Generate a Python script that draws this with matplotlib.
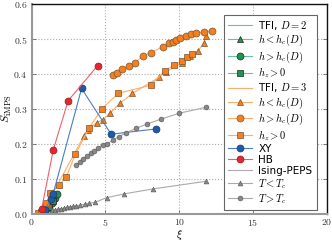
import matplotlib
matplotlib.use("Agg")
import matplotlib.pyplot as plt

plt.rcParams['mathtext.fontset'] = 'cm'
plt.rcParams['font.family'] = ['DejaVu Serif']

# ---------------- data ----------------
# TFI, D=2
d2_tri_x = [0.9, 1.1, 1.3, 1.5]
d2_tri_y = [0.010, 0.022, 0.034, 0.046]
d2_circ_x = [1.15, 1.35, 1.55, 1.72]
d2_circ_y = [0.016, 0.030, 0.045, 0.058]
d2_sq_x = [0.6, 0.9, 1.2, 1.45]
d2_sq_y = [0.003, 0.009, 0.020, 0.036]

# TFI, D=3
d3_tri_x = [0.9, 1.1, 1.3, 3.54, 3.83, 4.4, 4.85, 5.3, 5.97, 6.83, 8.63, 9.13,
            10.2, 10.71, 11.27, 11.66, 11.84]
d3_tri_y = [0.010, 0.028, 0.048, 0.223, 0.240, 0.261, 0.270, 0.288, 0.316,
            0.345, 0.391, 0.407, 0.433, 0.452, 0.467, 0.488, 0.509]
d3_circ_x = [5.5, 5.8, 6.15, 6.6, 7.0, 7.55, 8.1, 8.9, 9.3, 9.55, 9.8, 10.05,
             10.45, 10.8, 11.15, 11.7, 12.25]
d3_circ_y = [0.397, 0.404, 0.414, 0.423, 0.433, 0.452, 0.462, 0.479, 0.488,
             0.493, 0.498, 0.503, 0.510, 0.514, 0.517, 0.521, 0.524]
d3_sq_x = [0.4, 0.6, 0.8, 1.0, 1.24, 1.87, 2.35, 2.95, 3.9, 4.74, 5.86, 8.05,
           9.02, 9.63, 10.2, 10.53, 10.83]
d3_sq_y = [0.002, 0.006, 0.015, 0.030, 0.060, 0.082, 0.106, 0.170, 0.246,
           0.300, 0.345, 0.368, 0.410, 0.426, 0.438, 0.448, 0.458]

# XY
xy_x = [0.9, 1.28, 1.46, 3.38, 5.38, 8.41]
xy_y = [0.012, 0.041, 0.058, 0.359, 0.228, 0.243]

# HB
hb_x = [0.67, 1.46, 2.47, 4.46]
hb_y = [0.013, 0.183, 0.324, 0.424]

# Ising-PEPS
is_lo_x = [1.4, 1.6, 1.8, 2.0, 2.2, 2.4, 2.6, 2.8, 3.0, 3.3, 3.6, 3.9, 4.3,
           5.07, 6.27, 8.19, 11.8]
is_lo_y = [0.010, 0.012, 0.013, 0.015, 0.016, 0.018, 0.019, 0.021, 0.022,
           0.025, 0.027, 0.030, 0.033, 0.046, 0.057, 0.071, 0.093]
is_hi_x = [3.0, 3.25, 3.5, 3.75, 4.0, 4.25, 4.5, 4.8, 5.1, 5.5, 5.9, 6.4, 7.1,
           7.8, 8.75, 10.0, 11.8]
is_hi_y = [0.140, 0.148, 0.157, 0.165, 0.173, 0.181, 0.189, 0.197, 0.200,
           0.211, 0.221, 0.232, 0.245, 0.257, 0.271, 0.288, 0.305]

xticks = [0, 5, 10, 15, 20]
yticks = [0.0, 0.1, 0.2, 0.3, 0.4, 0.5, 0.6]

# ---------------- styles ----------------
g_line = '#66c2a5'
g_mark = '#1a9850'
o_line = '#fdae6b'
o_mark = '#f47f20'
b_line = '#4a7fc4'
b_mark = '#1f5aa6'
r_line = '#f0606a'
r_mark = '#e3262f'
k_line = '#aaaaaa'
k_mark = '#888888'

fig = plt.figure(figsize=(3.32, 2.41), dpi=100)
ax = fig.add_axes([0.0955, 0.113, 0.889, 0.869])

lw = 0.8
ax.plot([], [], color=g_line, lw=lw, label='TFI, $D=2$')
ax.plot(d2_tri_x, d2_tri_y, '-^', color=g_line, mfc=g_mark, mec='#222222', ms=5, mew=0.5, lw=lw, label='$h<h_c(D)$')
ax.plot(d2_circ_x, d2_circ_y, '-o', color=g_line, mfc=g_mark, mec='#222222', ms=5, mew=0.5, lw=lw, label='$h>h_c(D)$')
ax.plot(d2_sq_x, d2_sq_y, '-s', color=g_line, mfc=g_mark, mec='#222222', ms=5, mew=0.5, lw=lw, label='$h_z>0$')
ax.plot([], [], color=o_line, lw=lw, label='TFI, $D=3$')
ax.plot(d3_tri_x, d3_tri_y, '-^', color=o_line, mfc=o_mark, mec='#7a5530', ms=5, mew=0.5, lw=lw, label='$h<h_c(D)$')
ax.plot(d3_circ_x, d3_circ_y, '-o', color=o_line, mfc=o_mark, mec='#7a5530', ms=5, mew=0.5, lw=lw, label='$h>h_c(D)$')
ax.plot(d3_sq_x, d3_sq_y, '-s', color=o_line, mfc=o_mark, mec='#7a5530', ms=5, mew=0.5, lw=lw, label='$h_z>0$')
ax.plot(xy_x, xy_y, '-o', color=b_line, mfc=b_mark, mec='#1a3a70', ms=5, mew=0.5, lw=lw, label='XY')
ax.plot(hb_x, hb_y, '-o', color=r_line, mfc=r_mark, mec='#8a2020', ms=5, mew=0.5, lw=lw, label='HB')
ax.plot([], [], color=k_line, lw=lw, label='Ising-PEPS')
ax.plot(is_lo_x, is_lo_y, '-^', color=k_line, mfc=k_mark, mec='#555555', ms=3.5, mew=0.4, lw=lw, label='$T<T_c$')
ax.plot(is_hi_x, is_hi_y, '-o', color=k_line, mfc=k_mark, mec='#555555', ms=3.5, mew=0.4, lw=lw, label='$T>T_c$')

ax.set_xlim(0, 20)
ax.set_ylim(0, 0.6)
ax.set_xticks(xticks)
ax.set_yticks(yticks)
ax.set_xticklabels([f'${t}$' for t in xticks])
ax.set_yticklabels([f'${t:.1f}$' for t in yticks])
ax.tick_params(direction='in', length=3, width=0.6, labelsize=7, top=False, right=True,
               color='#666666', pad=3, labelcolor='#333333')
ax.tick_params(axis='x', pad=2)
ax.grid(True, linestyle=':', color='#aaaaaa', lw=0.8)
ax.set_axisbelow(True)

for s in ['left', 'bottom']:
    ax.spines[s].set_color('#999999')
    ax.spines[s].set_linewidth(1.5)
for s in ['top', 'right']:
    ax.spines[s].set_color('#111111')
    ax.spines[s].set_linewidth(1.0)

ax.set_xlabel(r'$\xi$', fontsize=8)
ax.set_ylabel(r'$S_{\rm iMPS}$', fontsize=8.5)
ax.xaxis.set_label_coords(0.5, -0.067)
ax.yaxis.set_label_coords(-0.06, 0.5)

leg = ax.legend(loc='upper right', frameon=True, fancybox=False,
                edgecolor='#666666', framealpha=1, handlelength=2.3,
                labelspacing=0.1, borderpad=0.4, handletextpad=0.6,
                bbox_to_anchor=(0.983, 0.975), prop={'family': ['DejaVu Sans'], 'size': 7.5})
leg.get_frame().set_linewidth(0.8)

fig.savefig('out.png', dpi=100)
